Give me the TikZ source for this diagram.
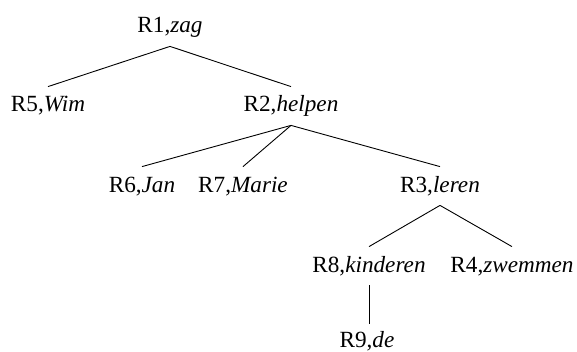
\documentclass[tikz,border=0pt]{standalone}
\usepackage{fontspec}
\setmainfont{Liberation Serif}
\begin{document}
\begin{tikzpicture}[x=0.5pt,y=-0.5pt,
  lbl/.style={anchor=base,inner xsep=0pt,inner ysep=4.5pt,text height=8pt,text depth=2pt,font=\fontsize{11.6pt}{13pt}\selectfont},
  edge/.style={line width=0.45pt}]
\useasboundingbox (0,0) rectangle (577,352);
\node[lbl] (r1) at (170,33) {R1,\textit{zag}};
\node[lbl] (r5) at (48,112) {R5,\textit{Wim}};
\node[lbl] (r2) at (291,112) {R2,\textit{helpen}};
\node[lbl] (r6) at (142,192) {R6,\textit{Jan}};
\node[lbl] (r7) at (243,192) {R7,\textit{Marie}};
\node[lbl] (r3) at (440,192) {R3,\textit{leren}};
\node[lbl] (r8) at (369,272) {R8,\textit{kinderen}};
\node[lbl] (r4) at (512,272) {R4,\textit{zwemmen}};
\node[lbl] (r9) at (367,347) {R9,\textit{de}};
\coordinate (r9top) at ([yshift=-1pt]r9.north);
\draw[edge] (r1.south) -- (r5.north);
\draw[edge] (r1.south) -- (r2.north);
\draw[edge] (r2.south) -- (r6.north);
\draw[edge] (r2.south) -- (r7.north);
\draw[edge] (r2.south) -- (r3.north);
\draw[edge] (r3.south) -- (r8.north);
\draw[edge] (r3.south) -- (r4.north);
\draw[edge] (r8.south) -- (r8.south |- r9top);
\end{tikzpicture}
\end{document}
